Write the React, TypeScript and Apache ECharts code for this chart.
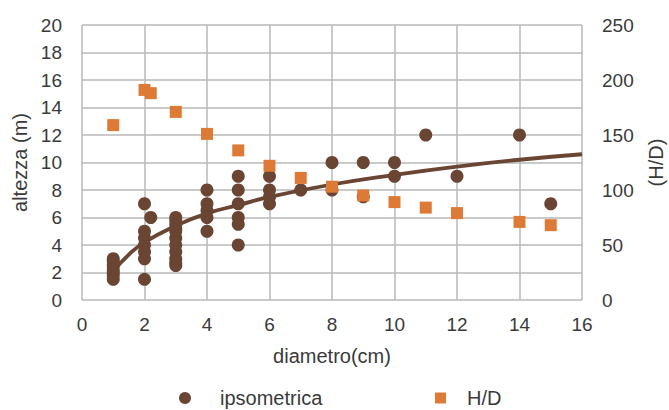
import React, { useEffect, useRef } from "react";
import * as echarts from "echarts";

// ipsometrica: [diametro (cm), altezza (m)]
const ipsoX: number[] = [
  1, 1, 1, 1, 1, 1, 1,
  2, 2, 2, 2, 2, 2, 2, 2.2,
  3, 3, 3, 3, 3, 3, 3, 3, 3, 3, 3,
  4, 4, 4, 4, 4,
  5, 5, 5, 5, 5, 5,
  6, 6, 6, 6,
  7,
  8, 8,
  9, 9,
  10, 10,
  11, 12, 14, 15,
];
const ipsoY: number[] = [
  3, 2.8, 2.5, 2.2, 2, 1.8, 1.5,
  7, 5, 4.5, 4, 3.5, 3, 1.5, 6,
  6, 5.8, 5.5, 5.2, 5, 4.5, 4, 3.5, 3, 2.7, 2.5,
  8, 7, 6.5, 6, 5,
  9, 8, 7, 6, 5.5, 4,
  9, 8, 7.5, 7,
  8,
  10, 8,
  10, 7.5,
  10, 9,
  12, 9, 12, 7,
];

// H/D ratio
const hdX: number[] = [1, 2, 2.2, 3, 4, 5, 6, 7, 8, 9, 10, 11, 12, 14, 15];
const hdY: number[] = [159, 191, 188, 171, 151, 136, 122, 111, 103, 95, 89, 84, 79, 71, 68];

// trend line
const trendX: number[] = [1, 1.5, 2, 3, 4, 5, 6, 8, 10, 12, 14, 16];
const trendY: number[] = [2.1, 3.3, 4.2, 5.4, 6.3, 6.9, 7.5, 8.4, 9.1, 9.7, 10.2, 10.6];

const BROWN = "#6B4533";
const ORANGE = "#DC7A36";
const GRID = "#B8B8B8";
const TEXT = "#3A3A3A";
const FONT = "'Liberation Sans', Arial, sans-serif";
const FS = 19;
const FN = 20;

export default function App() {
  const ref = useRef<HTMLDivElement>(null);
  useEffect(() => {
    if (!ref.current) return;
    const chart = echarts.init(ref.current, undefined, {
      renderer: "svg",
      width: 669,
      height: 410,
    });
    chart.setOption({
      animation: false,
      backgroundColor: "#ffffff",
      textStyle: { fontFamily: FONT },
      grid: {
        left: 82,
        right: 87,
        top: 25,
        bottom: 110,
        containLabel: false,
        outerBoundsMode: "none",
      },
      legend: [
        {
          data: [{ name: "ipsometrica", icon: "circle" }],
          left: 179,
          top: 388,
          padding: 0,
          itemWidth: 12,
          itemHeight: 12,
          textStyle: {
            fontSize: FN,
            color: TEXT,
            fontFamily: FONT,
            padding: [0, 0, 0, 24],
          },
        },
        {
          data: [{ name: "H/D", icon: "rect" }],
          left: 435,
          top: 388,
          padding: 0,
          itemWidth: 11,
          itemHeight: 11,
          textStyle: {
            fontSize: FN,
            color: TEXT,
            fontFamily: FONT,
            padding: [0, 0, 0, 16],
          },
        },
      ],
      xAxis: {
        type: "value",
        min: 0,
        max: 16,
        interval: 2,
        name: "diametro(cm)",
        nameLocation: "middle",
        nameGap: 46,
        nameTextStyle: { fontSize: FN, color: TEXT, fontFamily: FONT },
        axisLine: { show: false },
        axisTick: { show: false },
        axisLabel: { fontSize: FS, color: TEXT, margin: 15, fontFamily: FONT },
        splitLine: { show: true, lineStyle: { color: GRID, width: 1.5 } },
      },
      yAxis: [
        {
          type: "value",
          min: 0,
          max: 20,
          interval: 2,
          name: "altezza (m)",
          nameLocation: "middle",
          nameRotate: 90,
          nameGap: 50,
          nameTextStyle: { fontSize: FN, color: TEXT, fontFamily: FONT },
          axisLine: { show: false },
          axisTick: { show: false },
          axisLabel: { fontSize: FS, color: TEXT, margin: 20, fontFamily: FONT },
          splitLine: { show: true, lineStyle: { color: GRID, width: 1.5 } },
        },
        {
          type: "value",
          min: 0,
          max: 250,
          interval: 50,
          position: "right",
          name: "(H/D)",
          nameLocation: "middle",
          nameRotate: 90,
          nameGap: 64,
          nameTextStyle: { fontSize: FN, color: TEXT, fontFamily: FONT },
          axisLine: { show: false },
          axisTick: { show: false },
          axisLabel: { fontSize: FS, color: TEXT, margin: 20, fontFamily: FONT },
          splitLine: { show: false },
        },
      ],
      series: [
        {
          name: "trend",
          type: "line",
          yAxisIndex: 0,
          data: trendX.map((x, i) => [x, trendY[i]]),
          smooth: true,
          showSymbol: false,
          lineStyle: { color: BROWN, width: 3.8 },
          z: 2,
        },
        {
          name: "ipsometrica",
          type: "scatter",
          yAxisIndex: 0,
          symbol: "circle",
          symbolSize: 13,
          itemStyle: { color: BROWN, opacity: 1 },
          data: ipsoX.map((x, i) => [x, ipsoY[i]]),
          z: 3,
        },
        {
          name: "H/D",
          type: "scatter",
          yAxisIndex: 1,
          symbol: "rect",
          symbolSize: 12,
          itemStyle: { color: ORANGE, opacity: 1 },
          data: hdX.map((x, i) => [x, hdY[i]]),
          z: 4,
        },
      ],
    });
    return () => chart.dispose();
  }, []);
  return (
    <div
      ref={ref}
      style={{ position: "absolute", left: 0, top: 0, width: 669, height: 410 }}
    />
  );
}
